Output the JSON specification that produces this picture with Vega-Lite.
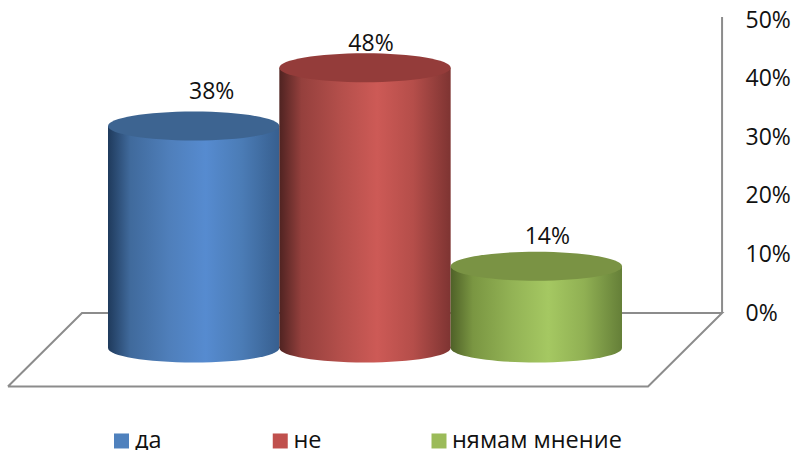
{
"$schema":"https://vega.github.io/schema/vega-lite/v6.json",
"width":797,"height":450,"autosize":"none","padding":0,"background":"white",
"datasets":{
"answers":[{"answer":"да","share":0.38},{"answer":"не","share":0.48},{"answer":"нямам мнение","share":0.14}],
"frame":[{"part":"floor","i":0,"bar":-0.584,"pct":-0.1255},{"part":"floor","i":1,"bar":-0.152,"pct":0},{"part":"floor","i":2,"bar":3.584,"pct":0},{"part":"floor","i":3,"bar":3.152,"pct":-0.1255},{"part":"floor","i":4,"bar":-0.584,"pct":-0.1255},{"part":"wall","i":0,"bar":3.584,"pct":0},{"part":"wall","i":1,"bar":3.584,"pct":0.505}]
},
"config":{"view":{"stroke":null},"text":{"font":"Open Sans"}},
"resolve":{"scale":{"x":"independent","y":"independent","fill":"independent"},"axis":{"y":"independent"}},
"layer":[
{"data":{"name":"frame"},"mark":{"type":"line","color":"#8c8c8c","strokeWidth":2,"strokeJoin":"miter"},
 "encoding":{
  "x":{"field":"bar","type":"quantitative","axis":null,"scale":{"domain":[0,3],"range":[108,622],"nice":false,"zero":false}},
  "y":{"field":"pct","type":"quantitative","scale":{"domain":[0,0.5],"range":[313,20],"nice":false,"zero":false},
   "axis":{"orient":"right","offset":-75,"values":[0,0.1,0.2,0.3,0.4,0.5],"format":".0%","title":null,"domain":false,"ticks":false,"grid":false,"labelPadding":23,"labelFont":"Open Sans","labelFontSize":23,"labelColor":"#111111","labelAlign":"left","labelBaseline":"middle"}},
  "detail":{"field":"part"},"order":{"field":"i"}}},
{"data":{"name":"answers"},"transform":[{"filter":"datum.answer==='да'"}],
 "encoding":{
  "x":{"field":"answer","type":"nominal","axis":null,"scale":{"type":"band","domain":["да","не","нямам мнение"],"range":[108,622],"paddingInner":0,"paddingOuter":0}}},
 "layer":[
  {"mark":{"type":"point","filled":true,"opacity":1,"strokeWidth":0,"size":29344,"shape":"M-1,0 C-1,-0.0934 -0.552,-0.169 0,-0.169 C0.552,-0.169 1,-0.0934 1,0 C1,0.0934 0.552,0.169 0,0.169 C-0.552,0.169 -1,0.0934 -1,0 Z","fill":{"gradient":"linear","x1":0,"x2":1,"y1":0,"y2":0,"stops":[{"offset":0,"color":"#1f3a5c"},{"offset":0.13,"color":"#406a9c"},{"offset":0.36,"color":"#4f7fbb"},{"offset":0.57,"color":"#568bd0"},{"offset":0.78,"color":"#4b7cb6"},{"offset":1,"color":"#375f8f"}]}},
   "encoding":{"y":{"datum":0,"type":"quantitative","axis":null,"scale":{"domain":[0,0.5],"range":[348,56],"nice":false}}}},
  {"mark":{"type":"bar","strokeWidth":0,"fill":{"gradient":"linear","x1":0,"x2":1,"y1":0,"y2":0,"stops":[{"offset":0,"color":"#1f3a5c"},{"offset":0.13,"color":"#406a9c"},{"offset":0.36,"color":"#4f7fbb"},{"offset":0.57,"color":"#568bd0"},{"offset":0.78,"color":"#4b7cb6"},{"offset":1,"color":"#375f8f"}]}},
   "encoding":{"y":{"field":"share","type":"quantitative","axis":null,"scale":{"domain":[0,0.5],"range":[348,56],"nice":false}}}},
  {"mark":{"type":"point","filled":true,"opacity":1,"strokeWidth":0,"size":29344,"fill":"#3d6491","shape":"M-1,0 C-1,-0.0934 -0.552,-0.169 0,-0.169 C0.552,-0.169 1,-0.0934 1,0 C1,0.0934 0.552,0.169 0,0.169 C-0.552,0.169 -1,0.0934 -1,0 Z"},
   "encoding":{"y":{"field":"share","type":"quantitative","axis":null,"scale":{"domain":[0,0.5],"range":[348,56],"nice":false}}}},
  {"mark":{"type":"text","font":"Open Sans","fontSize":23,"color":"#111111","dx":18,"dy":-34,"baseline":"middle"},
   "encoding":{"y":{"field":"share","type":"quantitative","axis":null,"scale":{"domain":[0,0.5],"range":[348,56],"nice":false}},"text":{"field":"share","type":"quantitative","format":".0%"}}}
 ]},
{"data":{"name":"answers"},"transform":[{"filter":"datum.answer==='не'"}],
 "encoding":{
  "x":{"field":"answer","type":"nominal","axis":null,"scale":{"type":"band","domain":["да","не","нямам мнение"],"range":[108,622],"paddingInner":0,"paddingOuter":0}}},
 "layer":[
  {"mark":{"type":"point","filled":true,"opacity":1,"strokeWidth":0,"size":29344,"shape":"M-1,0 C-1,-0.0934 -0.552,-0.169 0,-0.169 C0.552,-0.169 1,-0.0934 1,0 C1,0.0934 0.552,0.169 0,0.169 C-0.552,0.169 -1,0.0934 -1,0 Z","fill":{"gradient":"linear","x1":0,"x2":1,"y1":0,"y2":0,"stops":[{"offset":0,"color":"#4f2321"},{"offset":0.13,"color":"#95403d"},{"offset":0.36,"color":"#b44f4b"},{"offset":0.57,"color":"#cd5a56"},{"offset":0.78,"color":"#b54e4a"},{"offset":1,"color":"#7e3432"}]}},
   "encoding":{"y":{"datum":0,"type":"quantitative","axis":null,"scale":{"domain":[0,0.5],"range":[348,56],"nice":false}}}},
  {"mark":{"type":"bar","strokeWidth":0,"fill":{"gradient":"linear","x1":0,"x2":1,"y1":0,"y2":0,"stops":[{"offset":0,"color":"#4f2321"},{"offset":0.13,"color":"#95403d"},{"offset":0.36,"color":"#b44f4b"},{"offset":0.57,"color":"#cd5a56"},{"offset":0.78,"color":"#b54e4a"},{"offset":1,"color":"#7e3432"}]}},
   "encoding":{"y":{"field":"share","type":"quantitative","axis":null,"scale":{"domain":[0,0.5],"range":[348,56],"nice":false}}}},
  {"mark":{"type":"point","filled":true,"opacity":1,"strokeWidth":0,"size":29344,"fill":"#943c3a","shape":"M-1,0 C-1,-0.0934 -0.552,-0.169 0,-0.169 C0.552,-0.169 1,-0.0934 1,0 C1,0.0934 0.552,0.169 0,0.169 C-0.552,0.169 -1,0.0934 -1,0 Z"},
   "encoding":{"y":{"field":"share","type":"quantitative","axis":null,"scale":{"domain":[0,0.5],"range":[348,56],"nice":false}}}},
  {"mark":{"type":"text","font":"Open Sans","fontSize":23,"color":"#111111","dx":6,"dy":-24,"baseline":"middle"},
   "encoding":{"y":{"field":"share","type":"quantitative","axis":null,"scale":{"domain":[0,0.5],"range":[348,56],"nice":false}},"text":{"field":"share","type":"quantitative","format":".0%"}}}
 ]},
{"data":{"name":"answers"},"transform":[{"filter":"datum.answer==='нямам мнение'"}],
 "encoding":{
  "x":{"field":"answer","type":"nominal","axis":null,"scale":{"type":"band","domain":["да","не","нямам мнение"],"range":[108,622],"paddingInner":0,"paddingOuter":0}}},
 "layer":[
  {"mark":{"type":"point","filled":true,"opacity":1,"strokeWidth":0,"size":29344,"shape":"M-1,0 C-1,-0.0934 -0.552,-0.169 0,-0.169 C0.552,-0.169 1,-0.0934 1,0 C1,0.0934 0.552,0.169 0,0.169 C-0.552,0.169 -1,0.0934 -1,0 Z","fill":{"gradient":"linear","x1":0,"x2":1,"y1":0,"y2":0,"stops":[{"offset":0,"color":"#4f6128"},{"offset":0.13,"color":"#7a9642"},{"offset":0.36,"color":"#93b355"},{"offset":0.57,"color":"#a5c862"},{"offset":0.78,"color":"#90b053"},{"offset":1,"color":"#657f38"}]}},
   "encoding":{"y":{"datum":0,"type":"quantitative","axis":null,"scale":{"domain":[0,0.5],"range":[348,56],"nice":false}}}},
  {"mark":{"type":"bar","strokeWidth":0,"fill":{"gradient":"linear","x1":0,"x2":1,"y1":0,"y2":0,"stops":[{"offset":0,"color":"#4f6128"},{"offset":0.13,"color":"#7a9642"},{"offset":0.36,"color":"#93b355"},{"offset":0.57,"color":"#a5c862"},{"offset":0.78,"color":"#90b053"},{"offset":1,"color":"#657f38"}]}},
   "encoding":{"y":{"field":"share","type":"quantitative","axis":null,"scale":{"domain":[0,0.5],"range":[348,56],"nice":false}}}},
  {"mark":{"type":"point","filled":true,"opacity":1,"strokeWidth":0,"size":29344,"fill":"#7a9344","shape":"M-1,0 C-1,-0.0934 -0.552,-0.169 0,-0.169 C0.552,-0.169 1,-0.0934 1,0 C1,0.0934 0.552,0.169 0,0.169 C-0.552,0.169 -1,0.0934 -1,0 Z"},
   "encoding":{"y":{"field":"share","type":"quantitative","axis":null,"scale":{"domain":[0,0.5],"range":[348,56],"nice":false}}}},
  {"mark":{"type":"text","font":"Open Sans","fontSize":23,"color":"#111111","dx":11,"dy":-29,"baseline":"middle"},
   "encoding":{"y":{"field":"share","type":"quantitative","axis":null,"scale":{"domain":[0,0.5],"range":[348,56],"nice":false}},"text":{"field":"share","type":"quantitative","format":".0%"}}}
 ]},
{"data":{"name":"answers"},"mark":{"type":"point","shape":"square","filled":true,"opacity":1,"size":225,"strokeWidth":0},
 "encoding":{
  "x":{"field":"answer","type":"nominal","sort":null,"axis":null,"scale":{"type":"point","padding":0,"domain":["да","не","нямам мнение"],"range":[121.5,439]}},
  "y":{"datum":-0.2184,"type":"quantitative","axis":null,"scale":{"domain":[0,0.5],"range":[313,20],"nice":false,"zero":false}},
  "fill":{"field":"answer","type":"nominal","legend":null,"scale":{"domain":["да","не","нямам мнение"],"range":["#4f81bd","#c0504d","#9bbb59"]}}}},
{"data":{"name":"answers"},"mark":{"type":"text","font":"Open Sans","fontSize":23.5,"color":"#111111","align":"left","baseline":"middle"},
 "encoding":{
  "x":{"field":"answer","type":"nominal","sort":null,"axis":null,"scale":{"type":"point","padding":0,"domain":["да","не","нямам мнение"],"range":[135,452]}},
  "y":{"datum":-0.2184,"type":"quantitative","axis":null,"scale":{"domain":[0,0.5],"range":[313,20],"nice":false,"zero":false}},
  "text":{"field":"answer"}}}
]}
